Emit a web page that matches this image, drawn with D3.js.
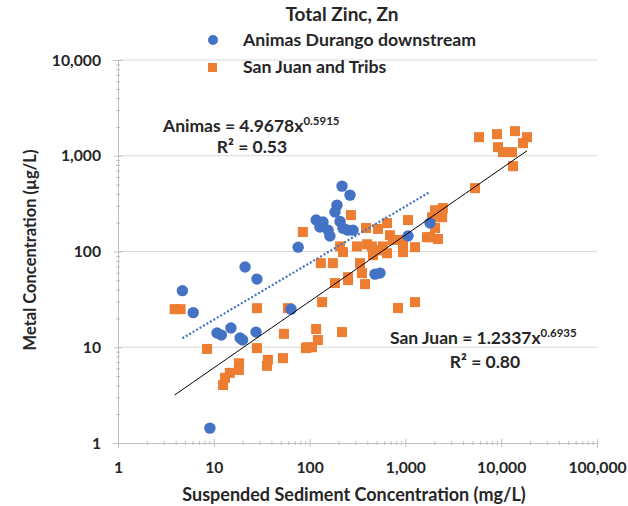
<!DOCTYPE html>
<html><head><meta charset="utf-8">
<script src="https://cdn.jsdelivr.net/npm/d3@7"></script>
<style>
body{margin:0;background:#fff;}
text{font-family:Lato,"Open Sans",sans-serif;font-weight:bold;fill:#262626;}
</style></head>
<body><svg id="c" width="628" height="506"></svg>
<script>
// ---- data ----
const animasX = [4.7,6.1,10.8,12,15.1,18.8,20,21.2,28.2,27.6,9.1,76,64,218,264,193,184,117,138,128,156,163,208,223,251,284,482,543,1064,1806];
const animasY = [39,23,14.1,13.4,15.9,12.5,11.9,69,51.5,14.4,1.43,111,25,482,388,305,258,213,203,180,167,145,206,175,167,167,58,59.5,145,198];
const sanJuanX = [3.9,4.5,8.5,18.3,18.3,14.7,13.1,12.5,28.2,28.2,36.7,35.9,52.7,54,59.5,91.5,
  184,252,379,135,837,1259,117,122,218,94,106,
  270,85,388,518,643,1064,1680,2188,1900,2140,2420,2460,690,741,922,1259,945,583,208,223,312,398,446,506,459,643,945,131,175,336,352,252,
  5865,9040,13930,18600,16900,9260,10440,12970,13300,5330,2040,2040,1806];
const sanJuanY = [25,25,9.6,6.8,5.8,5.4,4.8,4.03,25.6,9.8,7.4,6.4,7.7,13.8,25.6,9.8,
  46.8,50.3,45.7,29.6,25.7,29.6,15.5,11.9,14.4,10,10,
  240,160,176,172,198,213,141,135,228,255,228,284,148,132,132,111,113,113,113,98.6,113,119,113,103,91.7,96,98.6,75.6,75.6,75.6,59.5,54,
  1564,1680,1806,1564,1354,1230,1091,1091,778,459,270,176,141];
const xTicks = [1,10,100,1000,10000,100000];
const yTicks = [1,10,100,1000,10000];
const seriesNames = ["Animas Durango downstream","San Juan and Tribs"];
const animasFit = {a:4.9678, b:0.5915, r2:"0.53", label:"Animas"};
const sanJuanFit = {a:1.2337, b:0.6935, r2:"0.80", label:"San Juan"};
const sanJuanFitRange = [3.9, 18600];

const blue="#4472C4", orange="#ED7D31";
const svg = d3.select("#c");
const x = d3.scaleLog().domain([1,100000]).range([118,597]);
const y = d3.scaleLog().domain([1,10000]).range([443,60]);
const fmt = d3.format(",");

// gridlines
svg.append("g").selectAll("line").data(yTicks.slice(1)).join("line")
  .attr("x1",118).attr("x2",597).attr("y1",d=>y(d)).attr("y2",d=>y(d))
  .attr("stroke","#d9d9d9").attr("stroke-width",1.2);

// axes
const minorY = [], minorX=[];
for(let e=0;e<4;e++) for(let k=2;k<10;k++) minorY.push(k*Math.pow(10,e));
for(let e=0;e<5;e++) for(let k=2;k<10;k++) minorX.push(k*Math.pow(10,e));
const yAxis = svg.append("g").attr("transform","translate(118,0)")
  .call(d3.axisLeft(y).tickValues(yTicks).tickFormat(fmt).tickSize(5).tickPadding(12));
const yMinor = svg.append("g").attr("transform","translate(118,0)")
  .call(d3.axisLeft(y).tickValues(minorY).tickFormat("").tickSize(3));
const xAxis = svg.append("g").attr("transform","translate(0,443)")
  .call(d3.axisBottom(x).tickValues(xTicks).tickFormat(fmt).tickSize(5).tickPadding(14));
const xMinor = svg.append("g").attr("transform","translate(0,443)")
  .call(d3.axisBottom(x).tickValues(minorX).tickFormat("").tickSize(3));
[yAxis,yMinor,xAxis,xMinor].forEach(g=>{
  g.selectAll(".domain").attr("stroke","#bfbfbf");
  g.selectAll(".tick line").attr("stroke","#bfbfbf");
});
yMinor.selectAll(".domain").remove(); xMinor.selectAll(".domain").remove();
yAxis.selectAll(".tick line").attr("x2",4).attr("x1",-4);
yMinor.selectAll(".tick line").attr("x2",2).attr("x1",-2);
xAxis.selectAll(".tick line").attr("y1",-4).attr("y2",4);
xMinor.selectAll(".tick line").attr("y1",-2).attr("y2",2);
yAxis.selectAll("text").style("font-size","15.7px").attr("fill","#262626");
xAxis.selectAll("text").style("font-size","15.7px").attr("fill","#262626");

// data points
const sj = sanJuanX.map((v,i)=>[v,sanJuanY[i]]);
const an = animasX.map((v,i)=>[v,animasY[i]]);
svg.append("g").selectAll("rect").data(sj).join("rect")
  .attr("x",d=>x(d[0])-5).attr("y",d=>y(d[1])-5).attr("width",10).attr("height",10)
  .attr("fill",orange);
svg.append("g").selectAll("circle").data(an).join("circle")
  .attr("cx",d=>x(d[0])).attr("cy",d=>y(d[1])).attr("r",5.7).attr("fill",blue);

// trendlines
const line = d3.line().x(d=>x(d[0])).y(d=>y(d[1]));
function fitPts(f, lo, hi){
  const pts=[]; const n=40;
  for(let i=0;i<=n;i++){ const xv=Math.pow(10, Math.log10(lo)+(Math.log10(hi)-Math.log10(lo))*i/n); pts.push([xv, f.a*Math.pow(xv,f.b)]); }
  return pts;
}
svg.append("path").datum(fitPts(animasFit, d3.min(animasX), d3.max(animasX)))
  .attr("d",line).attr("fill","none").attr("stroke",blue).attr("stroke-width",2.2).attr("stroke-dasharray","2,2");
svg.append("path").datum(fitPts(sanJuanFit, sanJuanFitRange[0], sanJuanFitRange[1]))
  .attr("d",line).attr("fill","none").attr("stroke","#000").attr("stroke-width",1);

// equations
function eq(xp, yp, f){
  const t = svg.append("text").attr("x",xp).attr("y",yp).style("font-size","17.5px");
  t.append("tspan").text(`${f.label} = ${f.a.toFixed(4)}x`);
  t.append("tspan").attr("dy",-7).style("font-size","11.5px").text(f.b.toFixed(4));
}
eq(163,132,animasFit);
svg.append("text").attr("x",252).attr("y",153).attr("text-anchor","middle").style("font-size","17.5px").text(`R² = ${animasFit.r2}`);
eq(390,344,sanJuanFit);
svg.append("text").attr("x",485).attr("y",368).attr("text-anchor","middle").style("font-size","17.5px").text(`R² = ${sanJuanFit.r2}`);

// title & legend
svg.append("text").attr("x",342).attr("y",21).attr("text-anchor","middle").style("font-size","19px").text("Total Zinc, Zn");
svg.append("circle").attr("cx",213).attr("cy",40).attr("r",5).attr("fill",blue);
svg.append("rect").attr("x",208).attr("y",63).attr("width",9).attr("height",9).attr("fill",orange);
svg.append("text").attr("x",243).attr("y",46).style("font-size","17.7px").text(seriesNames[0]);
svg.append("text").attr("x",243).attr("y",73).style("font-size","17.7px").text(seriesNames[1]);

// axis titles
svg.append("text").attr("transform","translate(36,250) rotate(-90)").attr("text-anchor","middle").style("font-size","16.5px").text("Metal Concentration (µg/L)");
svg.append("text").attr("x",354).attr("y",501).attr("text-anchor","middle").style("font-size","18px").text("Suspended Sediment Concentration (mg/L)");
</script></body></html>
